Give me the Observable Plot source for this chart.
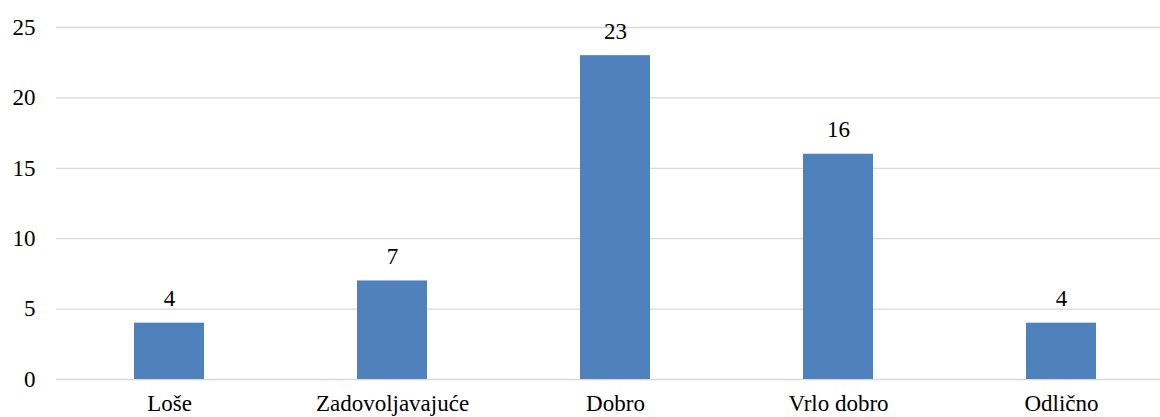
<!DOCTYPE html>
<html>
<head>
<meta charset="utf-8">
<script src="https://cdn.jsdelivr.net/npm/d3@7"></script>
<script src="https://cdn.jsdelivr.net/npm/@observablehq/plot@0.6"></script>
<style>
  html, body { margin: 0; padding: 0; background: #fff; overflow: hidden; }
  #chart { width: 1160px; height: 417px; overflow: hidden; }
  #chart svg { max-width: none !important; }
</style>
</head>
<body>
<div id="chart"></div>
<script>
const categories = ["Loše", "Zadovoljavajuće", "Dobro", "Vrlo dobro", "Odlično"];
const values = [4, 7, 23, 16, 4];
const yTicks = [0, 5, 10, 15, 20, 25];

const data = categories.map((c, i) => ({ category: c, value: values[i] }));
const serif = "Liberation Serif, Times New Roman, serif";

const chart = Plot.plot({
  width: 1173,
  height: 417,
  marginLeft: 56,
  marginRight: 0,
  marginTop: 27,
  marginBottom: 38,
  style: { background: "#fff", maxWidth: "none", color: "#000" },
  x: { domain: categories, padding: 0.687, paddingOuter: 0.3435, label: null },
  y: { domain: [0, 25], ticks: yTicks, label: null },
  marks: [
    Plot.gridY(yTicks, { stroke: "#d9d9d9", strokeOpacity: 1, strokeWidth: 1.3 }),
    Plot.axisY(yTicks, { tickSize: 0, tickPadding: 21, fontSize: 23, fontFamily: serif, fill: "#000", label: null }),
    Plot.axisX({ tickSize: 0, tickPadding: 15, fontSize: 23, fontFamily: serif, fill: "#000", label: null }),
    Plot.barY(data, { x: "category", y: "value", fill: "#4F81BD" }),
    Plot.text(data, { x: "category", y: "value", text: d => String(d.value), lineAnchor: "bottom", dy: -17, fontSize: 23, fontFamily: serif, fill: "#000" })
  ]
});
document.getElementById("chart").appendChild(chart);
</script>
</body>
</html>
